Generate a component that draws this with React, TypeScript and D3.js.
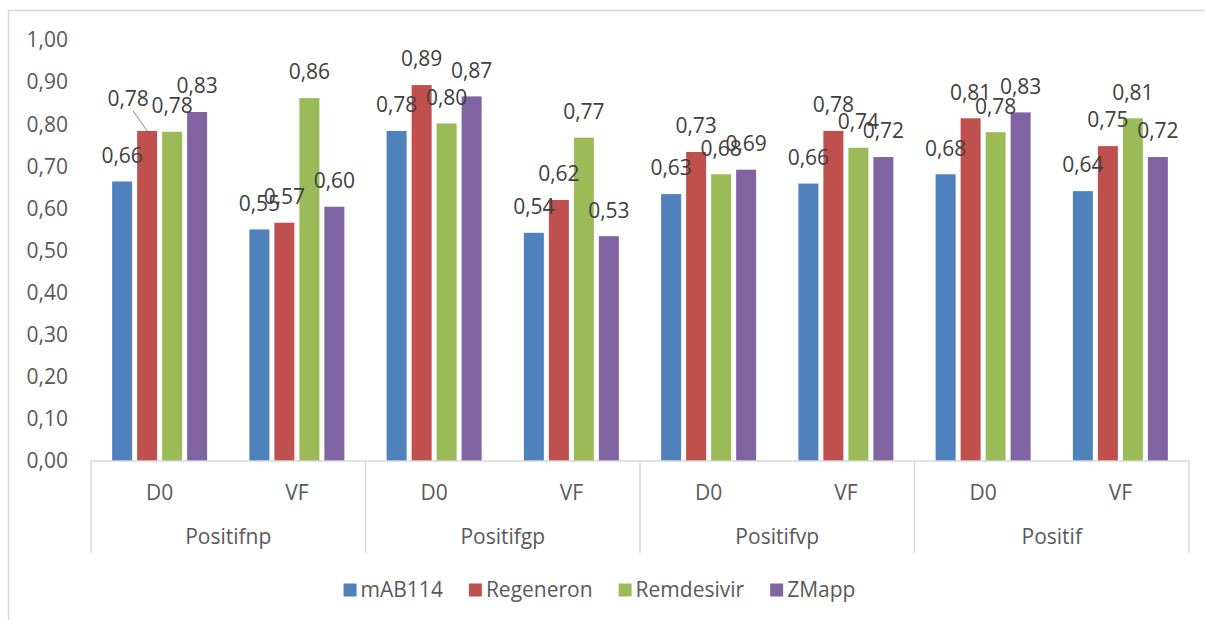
import React, { useRef, useEffect } from 'react';
import * as d3 from 'd3';

const groups = ['Positifnp', 'Positifgp', 'Positifvp', 'Positif'];
const subcats = ['D0', 'VF'];
const seriesNames = ['mAB114', 'Regeneron', 'Remdesivir', 'ZMapp'];

// one value per (group, subcat): Positifnp D0, Positifnp VF, Positifgp D0, ...
const mAB114 = [0.664, 0.55, 0.784, 0.542, 0.634, 0.659, 0.681, 0.641];
const regeneron = [0.784, 0.566, 0.893, 0.62, 0.734, 0.784, 0.814, 0.748];
const remdesivir = [0.782, 0.862, 0.802, 0.768, 0.681, 0.744, 0.781, 0.814];
const zmapp = [0.829, 0.604, 0.866, 0.534, 0.692, 0.722, 0.828, 0.722];

const yTicks = [0, 0.1, 0.2, 0.3, 0.4, 0.5, 0.6, 0.7, 0.8, 0.9, 1.0];

const colors = ['#4F81BD', '#C0504D', '#9BBB59', '#8064A2'];

const App = () => {
  const svgRef = useRef<SVGSVGElement>(null);
  const width = 1205;
  const height = 620;
  const plot = { left: 91, right: 1189, top: 40, bottom: 461 };
  const font = '"Open Sans", "Noto Sans", sans-serif';
  const fs = '21px';

  useEffect(() => {
    const svg = d3.select(svgRef.current);
    svg.selectAll('*').remove();

    const series = [mAB114, regeneron, remdesivir, zmapp];
    const cats = d3.range(groups.length * subcats.length);

    const fmt = d3.formatLocale({ decimal: ',', thousands: ' ', grouping: [3], currency: ['', ''] }).format('.2f');

    const x0 = d3.scaleBand<number>().domain(cats).range([plot.left, plot.right]).padding(0);
    const x1 = d3.scaleBand<number>()
      .domain(d3.range(series.length))
      .range([0, x0.bandwidth()])
      .paddingInner(0.2)
      .paddingOuter(0.845);
    const y = d3.scaleLinear().domain([0, 1]).range([plot.bottom, plot.top]);

    // chart frame
    svg.append('rect')
      .attr('x', 8.5).attr('y', 10.5)
      .attr('width', 1210).attr('height', 620)
      .attr('fill', 'none').attr('stroke', '#D9D9D9').attr('stroke-width', 1.5);

    // y tick labels
    svg.append('g')
      .selectAll('text')
      .data(yTicks)
      .enter()
      .append('text')
      .attr('x', 68)
      .attr('y', d => y(d))
      .attr('dy', '0.35em')
      .attr('text-anchor', 'end')
      .style('font-family', font)
      .style('font-size', fs)
      .style('fill', '#595959')
      .text(d => fmt(d));

    // bars
    const barG = svg.append('g');
    series.forEach((vals, s) => {
      barG.selectAll(`.bar-${s}`)
        .data(vals)
        .enter()
        .append('rect')
        .attr('x', (d, i) => x0(i)! + x1(s)!)
        .attr('y', d => y(d))
        .attr('width', x1.bandwidth())
        .attr('height', d => y(0) - y(d))
        .attr('fill', colors[s]);
    });

    // x axis line + group separators
    const axis = svg.append('g').attr('stroke', '#D9D9D9').attr('stroke-width', 1.5);
    axis.append('line')
      .attr('x1', plot.left).attr('x2', plot.right)
      .attr('y1', plot.bottom).attr('y2', plot.bottom);
    const groupScale = d3.scaleBand<string>().domain(groups).range([plot.left, plot.right]);
    const seps = groups.map(g => groupScale(g)!).concat([plot.right]);
    axis.selectAll('.sep')
      .data(seps)
      .enter()
      .append('line')
      .attr('x1', d => d).attr('x2', d => d)
      .attr('y1', plot.bottom).attr('y2', 553);

    // sub category labels
    svg.append('g')
      .selectAll('text')
      .data(cats)
      .enter()
      .append('text')
      .attr('x', i => x0(i)! + x0.bandwidth() / 2)
      .attr('y', 493)
      .attr('dy', '0.35em')
      .attr('text-anchor', 'middle')
      .style('font-family', font)
      .style('font-size', fs)
      .style('fill', '#595959')
      .text(i => subcats[i % subcats.length]);

    // group labels
    svg.append('g')
      .selectAll('text')
      .data(groups)
      .enter()
      .append('text')
      .attr('x', g => groupScale(g)! + groupScale.bandwidth() / 2)
      .attr('y', 537)
      .attr('dy', '0.35em')
      .attr('text-anchor', 'middle')
      .style('font-family', font)
      .style('font-size', fs)
      .style('fill', '#595959')
      .text(g => g);

    // data labels (one label moved by hand in the original, with a leader line)
    const nudge: Record<string, [number, number]> = { '1-0': [-19, -6] };
    const labelG = svg.append('g');
    series.forEach((vals, s) => {
      vals.forEach((v, i) => {
        const cx = x0(i)! + x1(s)! + x1.bandwidth() / 2;
        const cy = y(v) - 26;
        const n = nudge[`${s}-${i}`];
        if (n) {
          labelG.append('line')
            .attr('x1', cx + n[0] + 5).attr('y1', cy + n[1] + 12)
            .attr('x2', cx).attr('y2', y(v))
            .attr('stroke', '#A6A6A6').attr('stroke-width', 1.2);
        }
        labelG.append('text')
          .attr('x', cx + (n ? n[0] : 0))
          .attr('y', cy + (n ? n[1] : 0))
          .attr('dy', '0.35em')
          .attr('text-anchor', 'middle')
          .style('font-family', font)
          .style('font-size', fs)
          .style('fill', '#404040')
          .text(fmt(v));
      });
    });

    // legend
    const legend = svg.append('g');
    const items = seriesNames.map((name, s) => {
      const g = legend.append('g');
      g.append('rect').attr('width', 13).attr('height', 13).attr('y', -6.5).attr('fill', colors[s]);
      const t = g.append('text')
        .attr('x', 17)
        .attr('dy', '0.35em')
        .style('font-family', font)
        .style('font-size', fs)
        .style('fill', '#595959')
        .text(name);
      const w = (t.node() as SVGTextElement).getComputedTextLength();
      return { g, w: 17 + w };
    });
    const gap = 26;
    const total = d3.sum(items, d => d.w) + gap * (items.length - 1);
    let lx = 599.5 - total / 2;
    items.forEach(it => {
      it.g.attr('transform', `translate(${lx}, 590)`);
      lx += it.w + gap;
    });
  }, []);

  return (
    <svg
      ref={svgRef}
      width={width}
      height={height}
      style={{ position: 'absolute', left: 0, top: 0, background: '#fff' }}
    />
  );
};

export default App;
